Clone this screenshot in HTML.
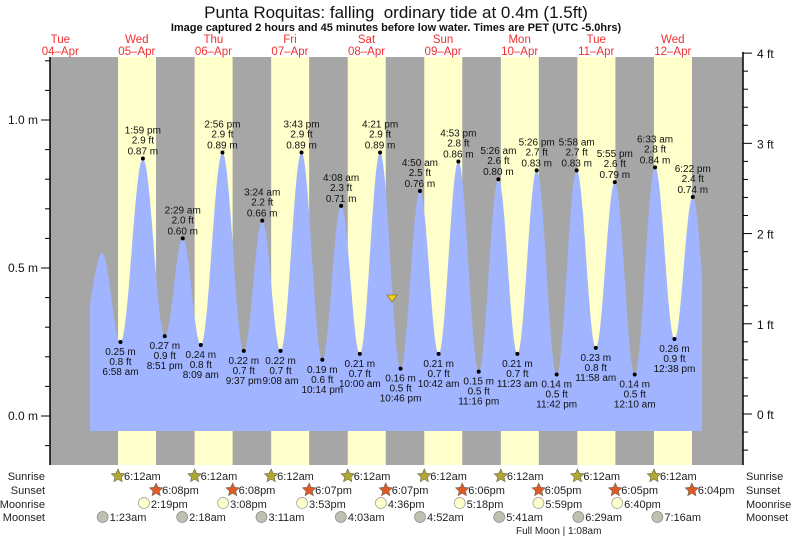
<!DOCTYPE html>
<html><head><meta charset="utf-8">
<style>body{margin:0;background:#fff}svg{display:block;font-family:"Liberation Sans",sans-serif}</style>
</head><body>
<svg id="s" width="793" height="539" viewBox="0 0 793 539" xmlns="http://www.w3.org/2000/svg">
<rect x="50" y="57" width="693" height="408" fill="#a6a6a6"/>
<g id="bands"></g>
<path id="tide" fill="#a0b4ff"/>
<g id="lab" font-size="10" fill="#111" text-anchor="middle"></g>
<line x1="50" y1="57" x2="50" y2="465" stroke="#000" stroke-width="1.5"/>
<line x1="743" y1="52" x2="743" y2="465" stroke="#000" stroke-width="1.5"/>
<g id="ax" font-size="12" fill="#111"></g>
<text x="396" y="18" font-size="17" text-anchor="middle" fill="#111" style="white-space:pre">Punta Roquitas: falling  ordinary tide at 0.4m (1.5ft)</text>
<text x="396" y="31" font-size="11" font-weight="bold" text-anchor="middle" fill="#111">Image captured 2 hours and 45 minutes before low water. Times are PET (UTC -5.0hrs)</text>
<g id="days" font-size="11.5" fill="#f03030" text-anchor="middle"></g>
<polygon points="387,295 397,295 392,302" fill="#f0d020" stroke="#806000" stroke-width="0.6"/>
<g id="sun" font-size="11" fill="#222"></g>
</svg>
<script>
const NS="http://www.w3.org/2000/svg";
function el(p,t,a,txt){const e=document.createElementNS(NS,t);for(const k in a)e.setAttribute(k,a[k]);if(txt!==undefined)e.textContent=txt;document.getElementById(p).appendChild(e);return e;}
const X=t=>21.7+t*3.19, Y=h=>416-h*296;
const dn=["Tue","Wed","Thu","Fri","Sat","Sun","Mon","Tue","Wed"];
for(let d=0;d<9;d++){
 if(d>0) el("bands","rect",{x:X(d*24+6.2),y:57,width:38,height:408,fill:"#ffffcc"});
 const cx=X(d*24+12.1);
 el("days","text",{x:cx,y:43},dn[d]);
 el("days","text",{x:cx,y:55},String(4+d).padStart(2,"0")+"\u2013Apr");
}
const E=[[1,6,58,.25],[1,13,59,.87],[1,20,51,.27],[2,2,29,.60],[2,8,9,.24],[2,14,56,.89],[2,21,37,.22],[3,3,24,.66],[3,9,8,.22],[3,15,43,.89],[3,22,14,.19],[4,4,8,.71],[4,10,0,.21],[4,16,21,.89],[4,22,46,.16],[5,4,50,.76],[5,10,42,.21],[5,16,53,.86],[5,23,16,.15],[6,5,26,.80],[6,11,23,.21],[6,17,26,.83],[6,23,42,.14],[7,5,58,.83],[7,11,58,.23],[7,17,55,.79],[8,0,10,.14],[8,6,33,.84],[8,12,38,.26],[8,18,22,.74]];
const pts=[[19,.3],[25.2,.55]];
E.forEach(e=>pts.push([e[0]*24+e[1]+e[2]/60,e[3]]));
pts.push([8*24+24.5,.15]);
function H(t){for(let i=0;i<pts.length-1;i++){const a=pts[i],b=pts[i+1];if(t>=a[0]&&t<=b[0]){const p=(t-a[0])/(b[0]-a[0]);return a[1]+(b[1]-a[1])*(1-Math.cos(Math.PI*p))/2;}}return .4;}
const t0=(90-21.7)/3.19,t1=(702-21.7)/3.19;
let d="M90,431";
for(let t=t0;t<=t1;t+=0.1)d+=" L"+X(t).toFixed(1)+","+Y(H(t)).toFixed(1);
d+=" L702,"+Y(H(t1)).toFixed(1)+" L702,431 Z";
document.getElementById("tide").setAttribute("d",d);
function fmt(h,m){const ap=h<12?"am":"pm";let hh=h%12;if(hh==0)hh=12;return hh+":"+String(m).padStart(2,"0")+" "+ap;}
E.forEach((e,i)=>{
 const t=e[0]*24+e[1]+e[2]/60,x=X(t),y=Y(e[3]);
 el("lab","circle",{cx:x,cy:y,r:2,fill:"#000"});
 const m=e[3].toFixed(2)+" m",ft=(e[3]*3.2808).toFixed(1)+" ft",tm=fmt(e[1],e[2]);
 const hi=(i%2==1);
 if(hi){el("lab","text",{x:x,y:y-25},tm);el("lab","text",{x:x,y:y-15},ft);el("lab","text",{x:x,y:y-4},m);}
 else{el("lab","text",{x:x,y:y+13},m);el("lab","text",{x:x,y:y+23},ft);el("lab","text",{x:x,y:y+33},tm);}
});
for(let v=-0.1;v<=1.3;v+=0.1){const y=Y(v);if(y<57||y>465)continue;el("ax","line",{x1:45,x2:50,y1:y,y2:y,stroke:"#000"});}
[[0,"0.0 m"],[.5,"0.5 m"],[1,"1.0 m"]].forEach(a=>{const y=Y(a[0]);el("ax","line",{x1:41,x2:50,y1:y,y2:y,stroke:"#000"});el("ax","text",{x:38,y:y+4,"text-anchor":"end"},a[1]);});
for(let f=-0.4;f<=4.01;f+=0.2){const y=Y(f*0.3048)-2;if(y<50||y>465)continue;const maj=Math.abs(f-Math.round(f))<0.01;el("ax","line",{x1:743,x2:maj?752:748,y1:y,y2:y,stroke:"#000"});if(maj)el("ax","text",{x:757,y:y+5},Math.round(f)+" ft");}
const rows=[["Sunrise",480],["Sunset",494],["Moonrise",508],["Moonset",521]];
rows.forEach(r=>{el("sun","text",{x:45,y:r[1],"text-anchor":"end"},r[0]);el("sun","text",{x:746,y:r[1]},r[0]);});
function star(x,y,c){let p="";for(let k=0;k<10;k++){const a=-Math.PI/2+k*Math.PI/5,rr=k%2?3.3:7;p+=(x+rr*Math.cos(a)).toFixed(1)+","+(y+rr*Math.sin(a)).toFixed(1)+" ";}el("sun","polygon",{points:p,fill:c,stroke:"#665","stroke-width":0.6});}
const ss=["6:08pm","6:08pm","6:07pm","6:07pm","6:06pm","6:05pm","6:05pm","6:04pm"];
const ssm=[8,8,7,7,6,5,5,4];
for(let k=1;k<=8;k++){
 let x=X(k*24+6.2);star(x,476,"#b0a830");el("sun","text",{x:x+6,y:480},"6:12am");
 x=X(k*24+18+ssm[k-1]/60);star(x,490,"#e05a28");el("sun","text",{x:x+6,y:494},ss[k-1]);
}
const mr=[[14,19],[15,8],[15,53],[16,36],[17,18],[17,59],[18,40]];
mr.forEach((m,i)=>{const x=X((i+1)*24+m[0]+m[1]/60);el("sun","circle",{cx:x,cy:503,r:5.5,fill:"#ffffcc",stroke:"#999","stroke-width":0.7});el("sun","text",{x:x+7,y:508},fmt(m[0],m[1]).replace(" ",""));});
const ms=[[1,23],[2,18],[3,11],[4,3],[4,52],[5,41],[6,29],[7,16]];
ms.forEach((m,i)=>{const x=X((i+1)*24+m[0]+m[1]/60);el("sun","circle",{cx:x,cy:517,r:5.5,fill:"#c0c0b0",stroke:"#888","stroke-width":0.7});el("sun","text",{x:x+7,y:521},fmt(m[0],m[1]).replace(" ",""));});
el("sun","text",{x:516,y:534,"font-size":"10"},"Full Moon | 1:08am");
</script>
</body></html>
